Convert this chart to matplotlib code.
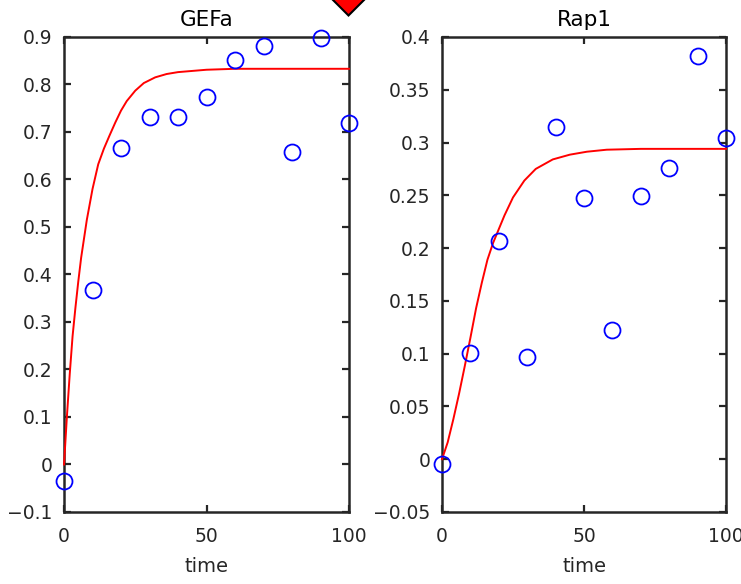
import numpy as np
import matplotlib
matplotlib.use("Agg")
import matplotlib.pyplot as plt
from matplotlib.patches import Polygon

plt.rcParams["font.family"] = ["DejaVu Sans"]

# measured data (circles)
T_DATA = [0, 10, 20, 30, 40, 50, 60, 70, 80, 90, 100]
GEFA_DATA = [-0.035, 0.367, 0.666, 0.732, 0.732, 0.774, 0.852, 0.881, 0.658, 0.898, 0.719]
RAP1_DATA = [-0.005, 0.101, 0.207, 0.097, 0.315, 0.247, 0.122, 0.249, 0.276, 0.382, 0.304]

# model simulation (red line)
GEFA_T = [0, 1, 2, 3, 4, 5, 6, 8, 10, 12, 14, 16, 18, 20, 22, 25, 28, 32, 36, 40,
          50, 60, 70, 80, 90, 100]
GEFA_SIM = [0, 0.10, 0.19, 0.27, 0.33, 0.385, 0.435, 0.515, 0.58, 0.632, 0.665, 0.693,
            0.72, 0.745, 0.765, 0.787, 0.803, 0.815, 0.822, 0.826, 0.831, 0.833,
            0.833, 0.833, 0.833, 0.833]
RAP1_T = [0, 2, 4, 6, 8, 10, 12, 14, 16, 18, 20, 22, 25, 29, 33, 39, 45, 51, 58,
          70, 80, 90, 100]
RAP1_SIM = [0, 0.016, 0.038, 0.062, 0.088, 0.115, 0.143, 0.167, 0.189, 0.205, 0.218,
            0.231, 0.248, 0.264, 0.275, 0.284, 0.2885, 0.2913, 0.2932, 0.294, 0.294,
            0.294, 0.294]

PANELS = [
    ("GEFa", GEFA_DATA, GEFA_T, GEFA_SIM, (-0.1, 0.9), np.arange(-0.1, 0.91, 0.1)),
    ("Rap1", RAP1_DATA, RAP1_T, RAP1_SIM, (-0.05, 0.4), np.arange(-0.05, 0.41, 0.05)),
]
AX_POS = [[0.0864, 0.1233, 0.3846, 0.8134], [0.5965, 0.1233, 0.3833, 0.8134]]

AXCOL = "#262626"
FS = 13.5


def fmt(v):
    return ("%g" % round(v, 2)).replace("-", "\u2212")


fig = plt.figure(figsize=(7.41, 5.84), dpi=100)

for pos, (name, data, t_sim, sim, ylim, yticks) in zip(AX_POS, PANELS):
    ax = fig.add_axes(pos)
    ax.plot(t_sim, sim, color="red", lw=1.4, clip_on=False, zorder=3)
    ax.plot(T_DATA, data, "o", mfc="none", mec="blue", ms=11.5, mew=1.3,
            clip_on=False, zorder=4)
    ax.set_xlim(0, 100)
    ax.set_ylim(*ylim)
    ax.set_xticks([0, 50, 100])
    ax.set_yticks(yticks)
    ax.set_yticklabels([fmt(v) for v in yticks])
    ax.tick_params(direction="in", length=5, width=1.6, color=AXCOL,
                   top=True, right=True, labelsize=FS, labelcolor=AXCOL)
    ax.tick_params(axis="x", pad=10.5)
    ax.tick_params(axis="y", pad=8.5)
    for s in ax.spines.values():
        s.set_linewidth(1.8)
        s.set_color(AXCOL)
    ax.set_title(name, fontsize=15.5, color="black", pad=8)
    ax.set_xlabel("time", fontsize=14, color=AXCOL, labelpad=8.5)

# cut-off marker at the top edge (belongs to the figure above)
DIAMOND = [[348.5, 15.5], [366, -2], [348.5, -19.5], [331, -2]]
fig.add_artist(Polygon([[x, 584 - y] for x, y in DIAMOND], closed=True,
                       transform=None, facecolor="red", edgecolor="black", lw=1.5))

fig.savefig("out.png", dpi=100)
